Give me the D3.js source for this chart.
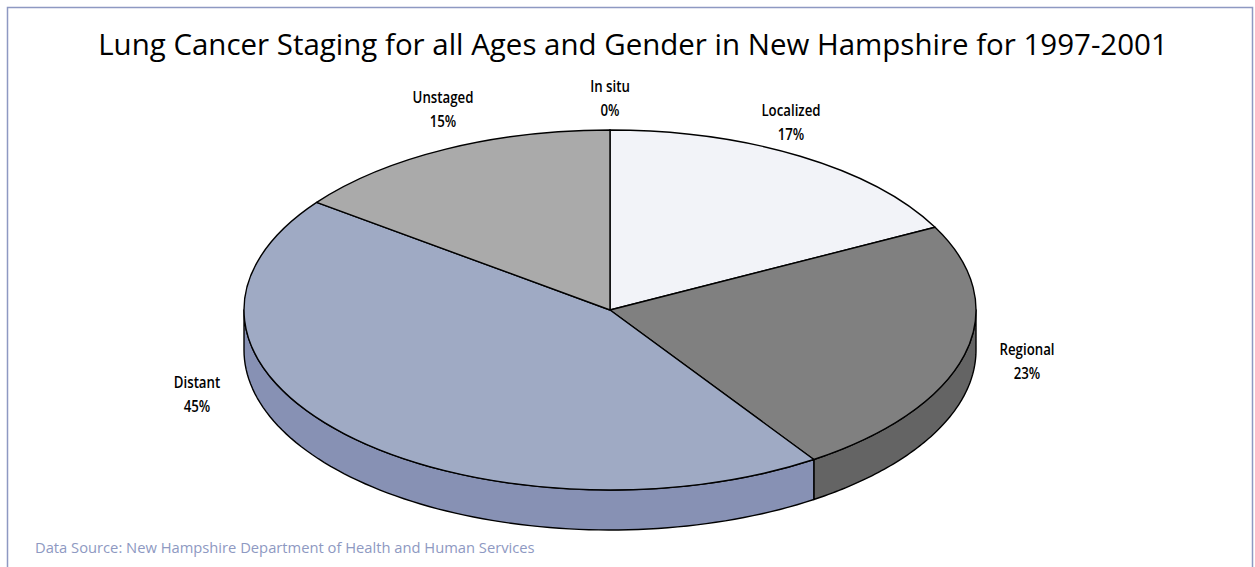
<!DOCTYPE html>
<html><head><meta charset="utf-8">
<script src="https://cdn.jsdelivr.net/npm/d3@7"></script>
<style>html,body{margin:0;padding:0;background:#fff;}svg{display:block;}</style>
</head><body>
<svg id="c" width="1255" height="567"></svg>
<script>
const categories = ["In situ", "Localized", "Regional", "Distant", "Unstaged"];
const values = [0, 17.4, 23.2, 44.6, 14.8];
const topColors = ["#c8c8c8", "#f2f3f8", "#808080", "#9faac4", "#aaaaaa"];
const sideColors = ["#a0a0a0", "#c9cad0", "#646464", "#8791b4", "#8a8a8a"];
const labelPos = [[610, 92], [791, 116], [1027, 355], [197, 388], [443, 103]];
const titleText = "Lung Cancer Staging for all Ages and Gender in New Hampshire for 1997-2001";
const sourceText = "Data Source: New Hampshire Department of Health and Human Services";

const svg = d3.select("#c");
const cx = 610, cy = 310, rx = 366, ry = 180, depth = 40;

// frame
svg.append("rect").attr("x", 7.5).attr("y", 7.5).attr("width", 1245).attr("height", 600)
  .attr("fill", "#fff").attr("stroke", "#8e99c2").attr("stroke-width", 1.5);

// title
const title = svg.append("text").attr("x", 633).attr("y", 55).attr("text-anchor", "middle")
  .attr("font-family", "'Open Sans', 'DejaVu Sans', sans-serif").attr("font-size", 25)
  .attr("fill", "#000").text(titleText);
const tw = title.node().getComputedTextLength();
title.attr("font-size", 25 * 1070 / tw);

// source
const src = svg.append("text").attr("x", 35).attr("y", 553)
  .attr("font-family", "'Open Sans', 'DejaVu Sans', sans-serif").attr("font-size", 11)
  .attr("fill", "#8e99c2").text(sourceText);
const sw = src.node().getComputedTextLength();
src.attr("font-size", 11 * 500 / sw);

const pie = d3.pie().sort(null).value(d => d).startAngle(0).endAngle(2 * Math.PI);
const arcs = pie(values);
const px = a => cx + rx * Math.sin(a);
const py = a => cy - ry * Math.cos(a);

const g = svg.append("g");

// outer walls (front half)
arcs.forEach((d, i) => {
  const s = Math.max(d.startAngle, Math.PI / 2);
  const e = Math.min(d.endAngle, 3 * Math.PI / 2);
  if (e <= s) return;
  const n = 80;
  const ts = d3.range(n + 1).map(k => s + (e - s) * k / n);
  const topPts = ts.map(a => [px(a), py(a)]);
  const botPts = ts.slice().reverse().map(a => [px(a), py(a) + depth]);
  g.append("path").attr("d", d3.line()(topPts.concat(botPts)) + "Z")
    .attr("fill", sideColors[i]).attr("stroke", "#000").attr("stroke-width", 1.4)
    .attr("stroke-linejoin", "round");
});

// top faces
arcs.forEach((d, i) => {
  const a0 = d.startAngle, a1 = d.endAngle;
  const large = (a1 - a0) > Math.PI ? 1 : 0;
  const p = `M${cx},${cy}L${px(a0)},${py(a0)}A${rx},${ry} 0 ${large} 1 ${px(a1)},${py(a1)}Z`;
  g.append("path").attr("d", p).attr("fill", topColors[i])
    .attr("stroke", "#000").attr("stroke-width", 1.4).attr("stroke-linejoin", "round");
});

// labels (horizontally condensed), two separate lines
categories.forEach((c, i) => {
  const lines = [c, Math.round(values[i]) + "%"];
  lines.forEach((txt, k) => {
    svg.append("g")
      .attr("transform", `translate(${labelPos[i][0]},${labelPos[i][1] + k * 24}) scale(0.78,1)`)
      .append("text").attr("x", 0).attr("y", 0)
      .attr("text-anchor", "middle").attr("font-family", "'Open Sans', 'DejaVu Sans', sans-serif")
      .attr("font-weight", 600).attr("font-size", 17).attr("fill", "#000").text(txt);
  });
});
</script>
</body></html>
